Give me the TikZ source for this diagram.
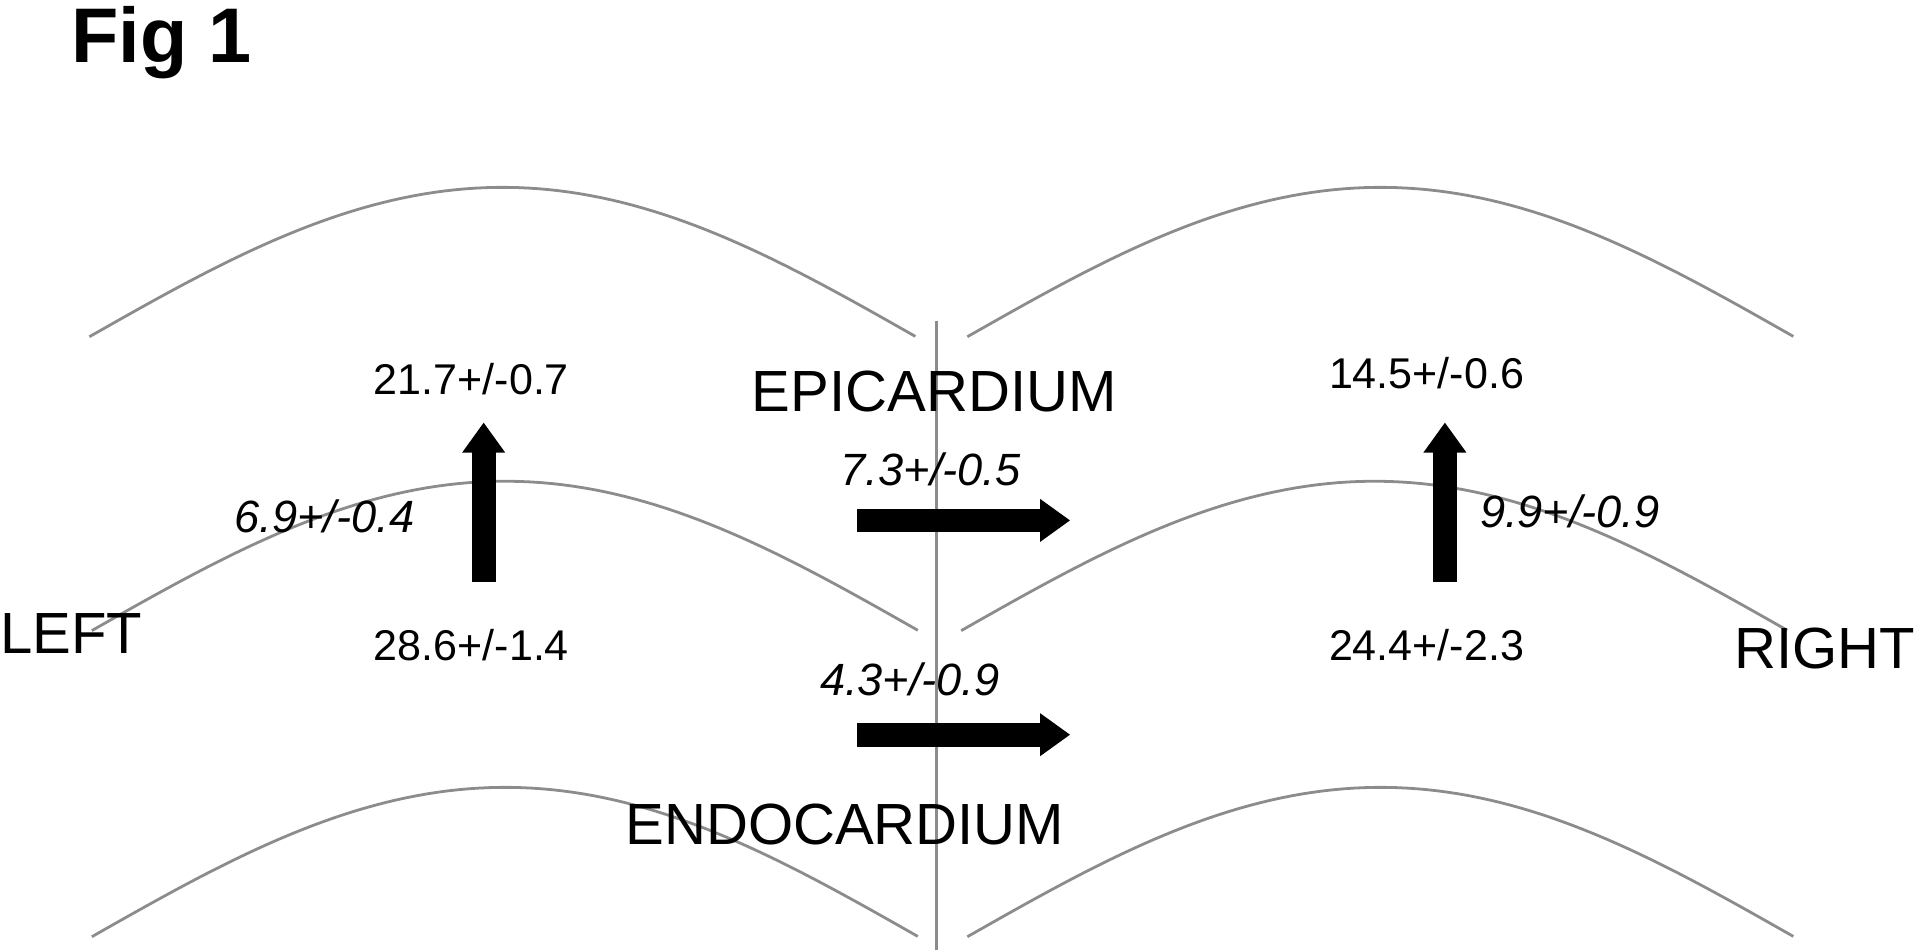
\documentclass[tikz,border=0pt]{standalone}
\usepackage{fontspec}
\setmainfont{Liberation Sans}
\begin{document}
\begin{tikzpicture}[x=0.02cm,y=-0.02cm,
  wave/.style={draw=black!45,line width=1.3pt},
  val/.style={font=\fontsize{20}{24}\selectfont},
  ival/.style={font=\fontsize{21}{24}\selectfont\itshape},
  lbl/.style={font=\fontsize{27}{30}\selectfont},
  fat/.style={line width=11pt,-{Triangle[width=19pt,length=14pt]}}]
\useasboundingbox (0,0) rectangle (1568,776);
\usetikzlibrary{arrows.meta}
\node[anchor=west,font=\fontsize{36}{40}\selectfont\bfseries] (fig) at (52,35) {Fig 1};
% waves
\foreach \xa/\ya in {73/275, 790/275, 75/515, 785/515, 75/765, 790/765}{
  \draw[wave] plot[domain=0:1,samples=80] ({\xa+675*\x},{\ya-122*sin(180*\x)});
}
\coordinate (vt) at (765,262); \coordinate (vb) at (765,776);
\draw[draw=black!45,line width=1.3pt] (vt) -- (vb);
% nodes
\node[val] (a) at (385,310) {21.7+/-0.7};
\node[val] (b) at (385,527) {28.6+/-1.4};
\node[val] (c) at (1165,305) {14.5+/-0.6};
\node[val] (d) at (1165,527) {24.4+/-2.3};
\node[lbl] (epi) at (763,320) {EPICARDIUM};
\node[lbl] (endo) at (690,673) {ENDOCARDIUM};
\node[lbl,anchor=west] (left) at (-6,517) {LEFT};
\node[lbl,anchor=east] (right) at (1570,530) {RIGHT};
\node[ival] (i1) at (265,422) {6.9+/-0.4};
\node[ival] (i2) at (1282,418) {9.9+/-0.9};
\node[ival] (i3) at (760,383) {7.3+/-0.5};
\node[ival] (i4) at (743,555) {4.3+/-0.9};
% arrows
\coordinate (l1) at (395,475); \coordinate (l2) at (395,345);
\coordinate (r1) at (1180,475); \coordinate (r2) at (1180,345);
\coordinate (h1) at (700,425); \coordinate (h2) at (874,425);
\coordinate (g1) at (700,600); \coordinate (g2) at (874,600);
\draw[fat] (l1) -- (l2);
\draw[fat] (r1) -- (r2);
\draw[fat] (h1) -- (h2);
\draw[fat] (g1) -- (g2);
\end{tikzpicture}
\end{document}
